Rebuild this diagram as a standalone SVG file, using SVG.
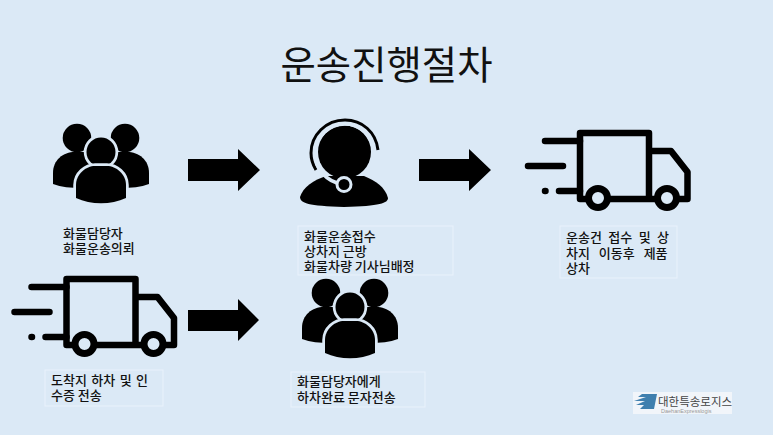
<svg xmlns="http://www.w3.org/2000/svg" width="773" height="435" viewBox="0 0 773 435">
<style>
text{font-family:"Noto Sans CJK KR","Liberation Sans",sans-serif;fill:#111}
.l{font-size:13px;font-weight:500}
.box{fill:none;stroke:#e9f2fb;stroke-width:1}
.tk{fill:none;stroke:#000;stroke-width:6.5;stroke-linecap:round;stroke-linejoin:round}
.wheel{fill:#dbe9f6;stroke:#000;stroke-width:7}
.gap{stroke:#dbe9f6;stroke-width:5.500;paint-order:stroke}
</style>
<defs>
<g id="people">
<circle cx="-24" cy="-14" r="14.300"/><circle cx="24" cy="-14" r="14.300"/>
<path d="M-48 32V21C-48 8-38 0-26 0H-8V34L-20 36C-30 36-40 35-48 32Z"/>
<path d="M48 32V21C48 8 38 0 26 0H8V34L20 36C30 36 40 35 48 32Z"/>
<circle class="gap" cx="0" cy="0" r="14.500"/>
<path class="gap" d="M-25 46V33C-25 22-15 14-6 14H6C15 14 25 22 25 33V46C10 53-10 53-25 46Z"/>
</g>
<g id="truck">
<path class="tk" d="M8 69H0V3H69V69H28M69 21H91L107.500 42V69H97M78 69H69"/>
<circle class="wheel" cx="18" cy="68" r="9.500"/>
<circle class="wheel" cx="87" cy="68" r="9.500"/>
<path class="tk" d="M-35 11H0M-52 36H-17M-21 61H0M-35 61H-34.500"/>
</g>
</defs>
<rect width="773" height="435" fill="#dbe9f6"/>
<text x="386.500" y="79" text-anchor="middle" font-size="38.400" style="font-weight:400">운송진행절차</text>
<g id="connectors">
<path d="M188 159H238V149L260 170 238 191V181H188Z"/>
<path d="M419 159H469V149L491 170 469 191V181H419Z"/>
<path d="M188 310H238V299L259 320 238 341V331H188Z"/>
</g>
<g id="node-shipper">
<use href="#people" x="101" y="152"/>
<text class="l" x="63" y="237.500">화물담당자</text><text class="l" x="63" y="252.500">화물운송의뢰</text>
</g>
<g id="node-agent">
<path d="M300 197C303 187 314 180 326 176H364C376 181 385 187 388 198C388 203 380 206 344 207C308 206 300 203 300 197Z"/>
<circle cx="344.500" cy="152" r="26.500"/>
<path d="M378 150C376 132 362 120 345 120C326 120 311 135 311 153C311 159 313 165 316 170" fill="none" stroke="#000" stroke-width="3"/>
<path d="M373 147C370 133 358 124 345 124C329 124 315 137 315 153C315 169 327 182 342 184" fill="none" stroke="#dbe9f6" stroke-width="3.500"/>
<circle cx="344" cy="184.500" r="7" fill="#000" stroke="#dbe9f6" stroke-width="3"/>
<rect class="box" x="298" y="226" width="155" height="49"/>
<text class="l" x="304" y="240.500">화물운송접수</text><text class="l" x="304" y="255.500">상차지 근방</text><text class="l" x="304" y="270.500">화물차량 기사님배정</text>
</g>
<g id="node-truck-1">
<use href="#truck" x="580" y="130"/>
<rect class="box" x="560" y="226" width="117" height="52"/>
<text class="l" x="566" y="242" word-spacing="3.500">운송건 접수 및 상</text><text class="l" x="566" y="257.500" word-spacing="6">차지 이동후 제품</text><text class="l" x="566" y="273">상차</text>
</g>
<g id="node-truck-2">
<use href="#truck" x="66.500" y="276"/>
<rect class="box" x="45" y="370" width="118" height="36"/>
<text class="l" x="51" y="385" word-spacing="1.500">도착지 하차 및 인</text><text class="l" x="51" y="400">수증 전송</text>
</g>
<g id="node-receiver">
<use href="#people" x="350" y="307"/>
<rect class="box" x="291" y="372" width="134" height="35"/>
<text class="l" x="297" y="386">화물담당자에게</text><text class="l" x="297" y="401.500">하차완료 문자전송</text>
</g>
<g id="node-logo">
<rect x="633" y="392" width="99" height="22" fill="#f1f5fa"/>
<path d="M642 394H657L654 409H640L644 405H636L645 401H634L646 397H638Z" fill="#3f7fae"/>
<text x="658" y="405.500" font-size="11.500" style="fill:#444">대한특송로지스</text>
<text x="661" y="412.500" font-size="5.500" style="fill:#999;font-family:'Liberation Sans',sans-serif">DaehanExpresslogis</text>
</g>
</svg>
